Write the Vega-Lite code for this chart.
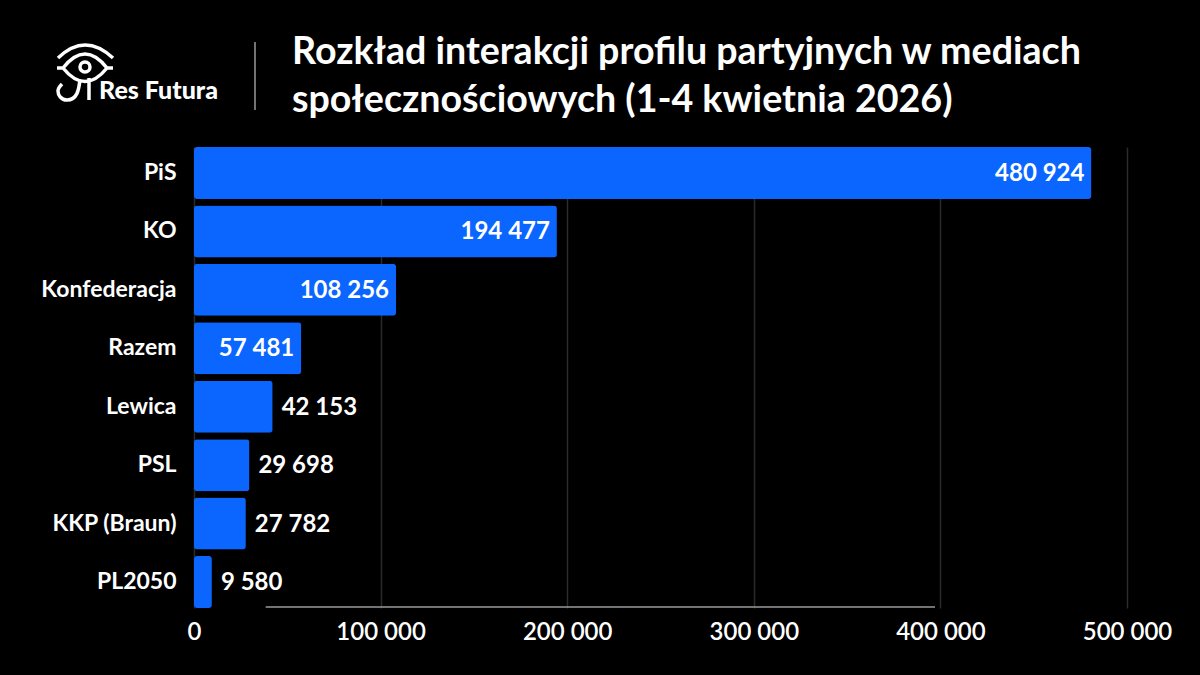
{
  "$schema": "https://vega.github.io/schema/vega-lite/v6.json",
  "autosize": "none",
  "width": 933,
  "height": 461,
  "padding": {"left": 194, "top": 147, "right": 73, "bottom": 67},
  "background": "#000000",
  "title": {
    "text": ["Rozkład interakcji profilu partyjnych w mediach", "społecznościowych (1-4 kwietnia 2026)"],
    "anchor": "start",
    "frame": "group",
    "dx": 98,
    "dy": 104,
    "offset": 22,
    "color": "#ffffff",
    "font": "Lato",
    "fontSize": 37.6,
    "fontWeight": 700,
    "lineHeight": 48
  },
  "datasets": {
    "parties": [
      {"party": "PiS", "value": 480924, "label": "480 924"},
      {"party": "KO", "value": 194477, "label": "194 477"},
      {"party": "Konfederacja", "value": 108256, "label": "108 256"},
      {"party": "Razem", "value": 57481, "label": "57 481"},
      {"party": "Lewica", "value": 42153, "label": "42 153"},
      {"party": "PSL", "value": 29698, "label": "29 698"},
      {"party": "KKP (Braun)", "value": 27782, "label": "27 782"},
      {"party": "PL2050", "value": 9580, "label": "9 580"}
    ],
    "rules": [
      {"x1": 32690, "y1": 566, "y2": 498},
      {"x1": 38400, "x2": 397100, "y1": 1}
    ],
    "brand": [{"x1": -58414, "y1": 538, "x3": -50900, "y3": 508.7, "name": "Res Futura"}]
  },
  "resolve": {"scale": {"y": "independent"}},
  "layer": [
    {
      "data": {"name": "parties"},
      "encoding": {
        "y": {
          "field": "party",
          "type": "nominal",
          "sort": null,
          "scale": {"paddingInner": 0.11, "paddingOuter": 0},
          "title": null,
          "axis": {
            "domain": false,
            "ticks": false,
            "grid": false,
            "labelColor": "#ffffff",
            "labelFont": "Lato",
            "labelFontSize": 23,
            "labelFontWeight": 700,
            "labelPadding": 18
          }
        }
      },
      "layer": [
        {
          "mark": {"type": "bar", "color": "#0a66ff", "cornerRadius": 3},
          "encoding": {
            "x": {
              "field": "value",
              "type": "quantitative",
              "scale": {"domain": [0, 500000], "nice": false},
              "title": null,
              "axis": {
                "values": [0, 100000, 200000, 300000, 400000, 500000],
                "domain": false,
                "ticks": false,
                "grid": true,
                "gridColor": "#2b2b2b",
                "gridWidth": 1.5,
                "labelColor": "#ffffff",
                "labelFont": "Lato",
                "labelFontSize": 24,
                "labelFontWeight": 600,
                "labelPadding": 12,
                "labelFlush": false,
                "labelExpr": "replace(format(datum.value, ','), /,/g, ' ')"
              }
            }
          }
        },
        {
          "transform": [{"filter": {"field": "value", "gte": 50000}}],
          "mark": {"type": "text", "align": "right", "baseline": "middle", "dx": -7, "dy": 1, "color": "#ffffff", "font": "Lato", "fontSize": 24, "fontWeight": 700},
          "encoding": {
            "x": {"field": "value", "type": "quantitative", "title": null},
            "text": {"field": "label"}
          }
        },
        {
          "transform": [{"filter": {"field": "value", "lt": 50000}}],
          "mark": {"type": "text", "align": "left", "baseline": "middle", "dx": 9, "dy": 1, "color": "#ffffff", "font": "Lato", "fontSize": 24, "fontWeight": 700},
          "encoding": {
            "x": {"field": "value", "type": "quantitative", "title": null},
            "text": {"field": "label"}
          }
        }
      ]
    },
    {
      "data": {"name": "rules"},
      "mark": {"type": "rule", "color": "#9a9a9a", "strokeWidth": 1.5},
      "encoding": {
        "x": {"field": "x1", "type": "quantitative", "title": null},
        "x2": {"field": "x2"},
        "y": {"field": "y1", "type": "quantitative", "axis": null, "scale": {"domain": [0, 461], "nice": false, "zero": false}},
        "y2": {"field": "y2"}
      }
    },
    {
      "data": {"name": "brand"},
      "mark": {
        "type": "point",
        "shape": "M-27,-12 Q0,-38 28,-12 M-28,-2 L-22,-2 Q0,-30 22,-2 L28,-2 M-22,-2 Q0,25 22,-2 M5,-3 A5,5 0 1 0 -5,-3 A5,5 0 1 0 5,-3 M-5,9 C-6,20 -8,30 -18,30 C-24,30 -27,25 -27,21 C-27,18 -25,16 -23,14 M4,8 L4,30",
        "size": 4,
        "filled": false,
        "stroke": "#ffffff",
        "strokeWidth": 3.5,
        "opacity": 1
      },
      "encoding": {
        "x": {"field": "x1", "type": "quantitative", "title": null},
        "y": {"field": "y1", "type": "quantitative", "axis": null, "scale": {"domain": [0, 461], "nice": false, "zero": false}}
      }
    },
    {
      "data": {"name": "brand"},
      "mark": {"type": "text", "align": "left", "baseline": "alphabetic", "color": "#ffffff", "font": "Lato", "fontSize": 25, "fontWeight": 900},
      "encoding": {
        "x": {"field": "x3", "type": "quantitative", "title": null},
        "y": {"field": "y3", "type": "quantitative", "axis": null, "scale": {"domain": [0, 461], "nice": false, "zero": false}},
        "text": {"field": "name"}
      }
    }
  ],
  "config": {"view": {"stroke": null}}
}
